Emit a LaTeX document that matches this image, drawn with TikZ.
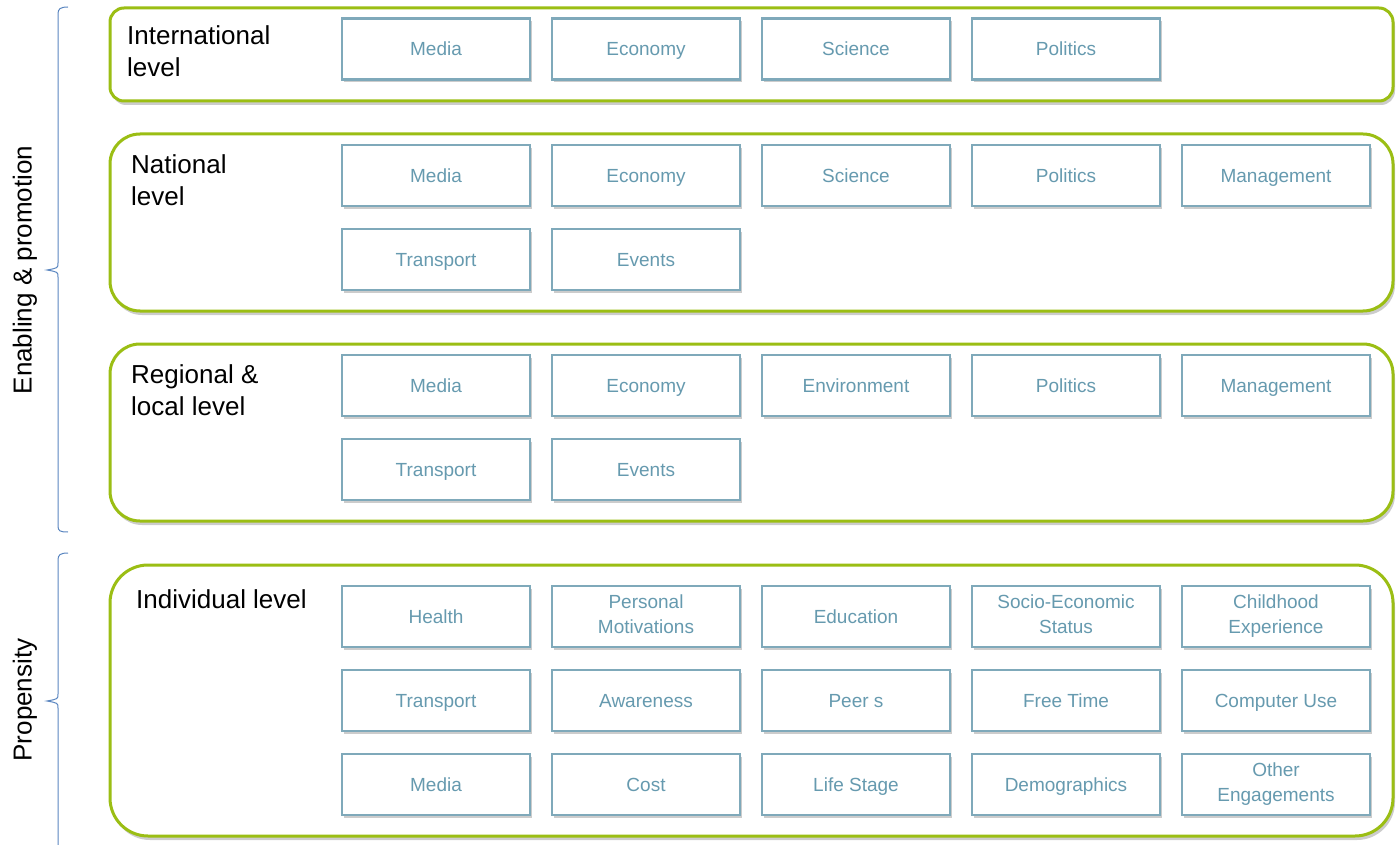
\documentclass[tikz,border=0pt]{standalone}
\usepackage{fontspec}
\setmainfont{Liberation Sans}
\usetikzlibrary{shadows}
\definecolor{lvlgreen}{HTML}{9BBE14}
\definecolor{itemblue}{HTML}{7FA9BA}
\definecolor{itemtext}{HTML}{669AAF}
\definecolor{bracecol}{HTML}{5A86C0}
\newcommand{\itemstrut}{\rule[-5pt]{0pt}{24pt}}
\tikzset{
  panel/.style={draw=lvlgreen, line width=3pt, fill=white,
    drop shadow={shadow xshift=2pt, shadow yshift=-4pt, opacity=0.4}},
  item/.style={draw=itemblue, line width=2.8pt, fill=white,
    minimum width=188pt, minimum height=61pt, inner sep=0pt, outer sep=0pt,
    align=center, text=itemtext, font=\fontsize{19}{25}\selectfont,
    execute at begin node=\itemstrut, execute at end node=\itemstrut,
    drop shadow={shadow xshift=1.5pt, shadow yshift=-3pt, opacity=0.4}},
  lvl/.style={anchor=north west, inner sep=0pt, align=left,
    font=\fontsize{26}{32}\selectfont},
  side/.style={rotate=90, inner sep=0pt, font=\fontsize{26}{30}\selectfont},
  curly/.style={draw=bracecol, line width=1pt}
}
\begin{document}
\begin{tikzpicture}[x=1pt,y=-1pt]
\useasboundingbox (0,0) rectangle (1400,845);

% brackets on the left
\draw[curly] (68,7) .. controls (60,7) and (58,9) .. (58,14) -- (58,263)
  .. controls (58,268) .. (47,270) .. controls (58,272) .. (58,277)
  -- (58,526) .. controls (58,531) and (60,532) .. (68,532);
\draw[curly] (68,553) .. controls (60,553) and (58,555) .. (58,560) -- (58,694)
  .. controls (58,699) .. (47,701) .. controls (58,703) .. (58,708)
  -- (58,849);
\node[side] (enabling) at (25,270) {Enabling \& promotion};
\node[side] (propensity) at (25,700) {Propensity};

% level panels
\draw[panel, rounded corners=14pt] (110,8) rectangle (1393,101);
\draw[panel, rounded corners=30pt] (110,134) rectangle (1393,311);
\draw[panel, rounded corners=30pt] (110,344) rectangle (1393,521);
\draw[panel, rounded corners=38pt] (110,565) rectangle (1393,836);

\node[lvl] (int-lbl) at (127,25) {International\\level};
\node[lvl] (nat-lbl) at (131,154) {National\\level};
\node[lvl] (reg-lbl) at (131,364) {Regional \&\\local level};
\node[lvl] (ind-lbl) at (136,589) {Individual level};

% international
\foreach \t [count=\i] in {Media,Economy,Science,Politics}
  \node[item] (int-\i) at (226+210*\i,49) {\t};

% national
\foreach \t [count=\i] in {Media,Economy,Science,Politics,Management}
  \node[item] (nat-a\i) at (226+210*\i,175.5) {\t};
\foreach \t [count=\i] in {Transport,Events}
  \node[item] (nat-b\i) at (226+210*\i,259.5) {\t};

% regional & local
\foreach \t [count=\i] in {Media,Economy,Environment,Politics,Management}
  \node[item] (reg-a\i) at (226+210*\i,385.5) {\t};
\foreach \t [count=\i] in {Transport,Events}
  \node[item] (reg-b\i) at (226+210*\i,469.5) {\t};

% individual
\foreach \t [count=\i] in {Health,{Personal\\Motivations},Education,
    {Socio-Economic\\Status},{Childhood\\Experience}}
  \node[item] (ind-a\i) at (226+210*\i,616.5) {\t};
\foreach \t [count=\i] in {Transport,Awareness,Peer s,Free Time,Computer Use}
  \node[item] (ind-b\i) at (226+210*\i,700.5) {\t};
\foreach \t [count=\i] in {Media,Cost,Life Stage,Demographics,{Other\\Engagements}}
  \node[item] (ind-c\i) at (226+210*\i,784.5) {\t};
\end{tikzpicture}
\end{document}
